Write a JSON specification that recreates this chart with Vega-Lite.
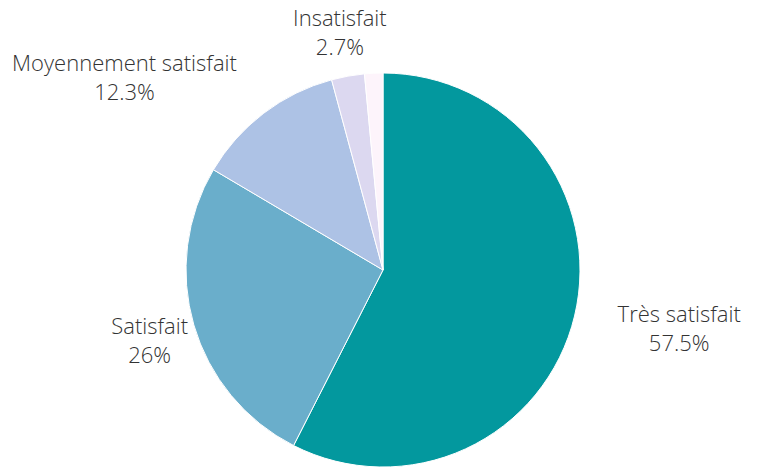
{
  "$schema": "https://vega.github.io/schema/vega-lite/v6.json",
  "autosize": "none",
  "padding": {"left": 8, "top": 72, "right": 0, "bottom": 0},
  "width": 750,
  "height": 396,
  "background": "white",
  "config": {"view": {"stroke": null}},
  "data": {"values": [
    {"cat": "Très satisfait", "pct": 57.5, "label": "Très satisfait\n57.5%", "idx": 1},
    {"cat": "Satisfait", "pct": 26, "label": "Satisfait\n26%", "idx": 2},
    {"cat": "Moyennement satisfait", "pct": 12.3, "label": "Moyennement satisfait\n12.3%", "idx": 3},
    {"cat": "Insatisfait", "pct": 2.7, "label": "Insatisfait\n2.7%", "idx": 4},
    {"cat": "Très insatisfait", "pct": 1.5, "label": "", "idx": 5}
  ]},
  "encoding": {
    "theta": {"field": "pct", "type": "quantitative", "stack": true},
    "order": {"field": "idx", "type": "quantitative"}
  },
  "layer": [
    {
      "mark": {"type": "arc", "outerRadius": 197, "stroke": "white", "strokeWidth": 1},
      "encoding": {
        "color": {"field": "cat", "type": "nominal", "legend": null,
          "scale": {"domain": ["Très satisfait", "Satisfait", "Moyennement satisfait", "Insatisfait", "Très insatisfait"],
                    "range": ["#03989e", "#6aaecb", "#adc2e5", "#dcd8f0", "#fdf4fb"]}}
      }
    },
    {
      "mark": {"type": "text", "radius": 246, "dx": 57, "dy": -12, "align": "center", "baseline": "middle", "lineBreak": "\n", "lineHeight": 29, "font": "Open Sans", "fontWeight": 300, "fontSize": 22, "color": "#333333"},
      "encoding": {"text": {"condition": {"test": "datum.cat === 'Très satisfait'", "field": "label"}, "value": ""}}
    },
    {
      "mark": {"type": "text", "radius": 243, "dy": -11, "align": "center", "baseline": "middle", "lineBreak": "\n", "lineHeight": 29, "font": "Open Sans", "fontWeight": 300, "fontSize": 22, "color": "#333333"},
      "encoding": {"text": {"condition": {"test": "datum.cat === 'Satisfait'", "field": "label"}, "value": ""}}
    },
    {
      "mark": {"type": "text", "radius": 242, "dx": -112, "dy": -13, "align": "center", "baseline": "middle", "lineBreak": "\n", "lineHeight": 29, "font": "Open Sans", "fontWeight": 300, "fontSize": 22, "color": "#333333"},
      "encoding": {"text": {"condition": {"test": "datum.cat === 'Moyennement satisfait'", "field": "label"}, "value": ""}}
    },
    {
      "mark": {"type": "text", "radius": 242, "dy": -13, "align": "center", "baseline": "middle", "lineBreak": "\n", "lineHeight": 29, "font": "Open Sans", "fontWeight": 300, "fontSize": 22, "color": "#333333"},
      "encoding": {"text": {"condition": {"test": "datum.cat === 'Insatisfait'", "field": "label"}, "value": ""}}
    }
  ]
}
